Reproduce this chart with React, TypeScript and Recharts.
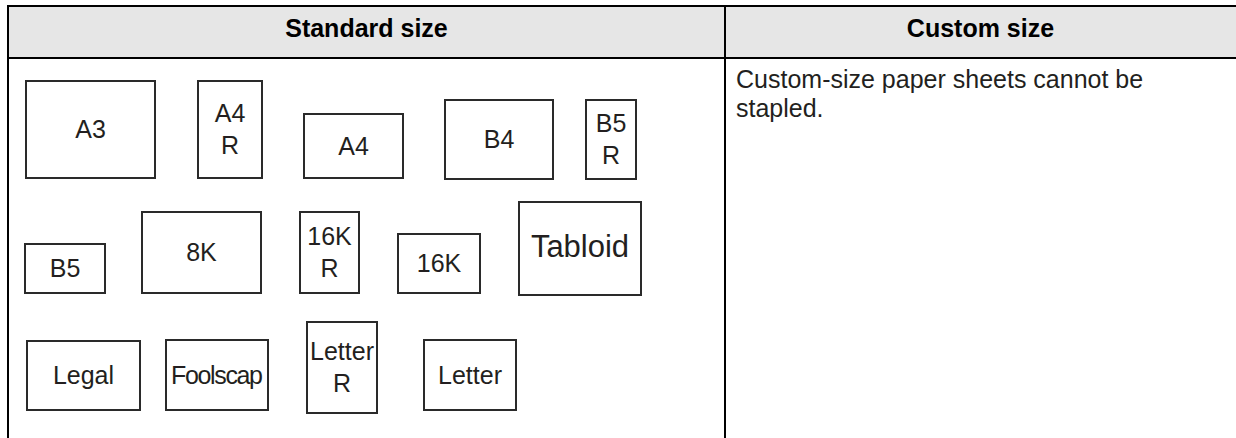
import React from 'react';
import { ComposedChart, XAxis, YAxis, ReferenceArea, ReferenceLine, Scatter } from 'recharts';

const W = 1236;
const H = 438;

// Paper-size boxes of the "Standard size" cell, on a page-unit layout axis
const paperNames = ['A3', 'A4 R', 'A4', 'B4', 'B5 R', 'B5', '8K', '16K R', '16K', 'Tabloid', 'Legal', 'Foolscap', 'Letter R', 'Letter'];
const boxLeft = [26, 198, 304, 445, 586, 25, 142, 300, 398, 519, 27, 166, 307, 424];
const boxRight = [155, 262, 403, 553, 636, 105, 261, 359, 480, 641, 140, 268, 377, 516];
const boxTop = [81, 81, 114, 100, 100, 244, 212, 212, 234, 202, 341, 340, 322, 340];
const boxBottom = [178, 178, 178, 179, 179, 293, 293, 293, 293, 295, 410, 410, 413, 410];

// Table structure
const headerLabels = ['Standard size', 'Custom size'];
const columnEdges = [8, 725, 1236];
const tableTop = 6;
const headerBottom = 58;
const customNote = ['Custom-size paper sheets cannot be', 'stapled.'];

const FONT = "'Liberation Sans', Arial, Helvetica, sans-serif";
const INK = '#231f20';

const labelPoints = paperNames.map((name, i) => ({
  name,
  x: (boxLeft[i] + boxRight[i]) / 2,
  y: (boxTop[i] + boxBottom[i]) / 2,
}));

const LabelShape = (props: any) => {
  const { cx, cy, payload } = props;
  if (cx == null || cy == null) return null;
  const name: string = payload.name;
  const lines = name.split(' ');
  const big = name === 'Tabloid';
  const fs = big ? 31 : 25;
  const cap = fs * 0.716;
  const gap = 32;
  const extra: any = {};
  if (name === 'Foolscap') {
    extra.textLength = 92;
    extra.lengthAdjust = 'spacing';
  }
  const offset = big ? -3 : 0;
  return (
    <g>
      {lines.map((ln, k) => {
        const base = cy + offset + cap / 2 + (k - (lines.length - 1) / 2) * gap;
        return (
          <text
            key={k}
            x={cx}
            y={base}
            textAnchor="middle"
            fontFamily={FONT}
            fontSize={fs}
            fill={INK}
            {...extra}
          >
            {ln}
          </text>
        );
      })}
    </g>
  );
};

const HeaderLabel = (text: string) => (p: any) => {
  const vb = p.viewBox || {};
  return (
    <text
      x={vb.x + vb.width / 2}
      y={37}
      textAnchor="middle"
      fontFamily={FONT}
      fontWeight="bold"
      fontSize={25}
      fill="#000"
    >
      {text}
    </text>
  );
};

const NoteLabel = (p: any) => {
  const vb = p.viewBox || {};
  return (
    <g>
      {customNote.map((ln, k) => (
        <text
          key={k}
          x={vb.x + 11}
          y={88 + k * 29}
          fontFamily={FONT}
          fontSize={25}
          fill={INK}
        >
          {ln}
        </text>
      ))}
    </g>
  );
};

export default function App() {
  return (
    <div style={{ position: 'absolute', left: 0, top: 0, width: W, height: H, background: '#fff' }}>
      <ComposedChart width={W} height={H} margin={{ top: 0, right: 0, bottom: 0, left: 0 }} data={labelPoints}>
        <XAxis type="number" dataKey="x" domain={[0, W]} hide allowDataOverflow />
        <YAxis type="number" dataKey="y" domain={[0, H]} reversed hide allowDataOverflow />

        {/* header fill */}
        <ReferenceArea x1={columnEdges[0]} x2={columnEdges[2]} y1={tableTop} y2={headerBottom} fill="#e6e6e6" fillOpacity={1} stroke="none" />

        {/* header labels */}
        {headerLabels.map((t, i) => (
          <ReferenceArea
            key={'h' + i}
            x1={columnEdges[i]}
            x2={columnEdges[i + 1]}
            y1={tableTop}
            y2={headerBottom}
            fill="none"
            stroke="none"
            label={HeaderLabel(t)}
          />
        ))}

        {/* custom note */}
        <ReferenceArea x1={columnEdges[1]} x2={columnEdges[2]} y1={headerBottom} y2={H} fill="none" stroke="none" label={NoteLabel} />

        {/* paper boxes */}
        {paperNames.map((n, i) => (
          <ReferenceArea
            key={n}
            x1={boxLeft[i]}
            x2={boxRight[i]}
            y1={boxTop[i]}
            y2={boxBottom[i]}
            fill="#fff"
            fillOpacity={1}
            stroke="#2a2a2a"
            strokeWidth={2}
          />
        ))}

        {/* table lines */}
        <ReferenceLine segment={[{ x: columnEdges[0] - 1, y: tableTop }, { x: columnEdges[2], y: tableTop }]} stroke="#000" strokeWidth={2} />
        <ReferenceLine segment={[{ x: columnEdges[0], y: headerBottom }, { x: columnEdges[2], y: headerBottom }]} stroke="#000" strokeWidth={2} />
        <ReferenceLine segment={[{ x: columnEdges[0], y: tableTop - 1 }, { x: columnEdges[0], y: H }]} stroke="#000" strokeWidth={2} />
        <ReferenceLine segment={[{ x: columnEdges[1], y: tableTop }, { x: columnEdges[1], y: H }]} stroke="#000" strokeWidth={2} />

        <Scatter dataKey="y" isAnimationActive={false} shape={LabelShape} />
      </ComposedChart>
    </div>
  );
}
